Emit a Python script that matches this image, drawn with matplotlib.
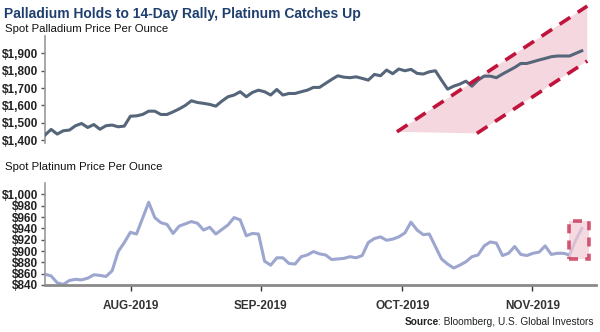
import numpy as np
import matplotlib.pyplot as plt
from matplotlib.patches import Polygon, Rectangle

# spot prices, one value per trading day (mid-Jul to mid-Nov 2019)
palladium = [1429, 1462, 1435, 1454, 1458, 1483, 1496, 1473, 1490, 1463,
             1483, 1487, 1477, 1481, 1538, 1540, 1548, 1567, 1567, 1548,
             1548, 1563, 1580, 1600, 1627, 1617, 1612, 1606, 1596, 1625,
             1650, 1660, 1679, 1650, 1675, 1688, 1679, 1660, 1692, 1660,
             1669, 1669, 1679, 1688, 1704, 1704, 1727, 1750, 1771, 1763,
             1760, 1765, 1756, 1746, 1779, 1771, 1804, 1783, 1810, 1800,
             1808, 1785, 1781, 1794, 1800, 1746, 1694, 1711, 1723, 1740,
             1711, 1746, 1769, 1769, 1760, 1781, 1800, 1819, 1842, 1842,
             1852, 1862, 1871, 1881, 1885, 1885, 1885, 1900, 1915]

platinum = [859, 856, 844, 841, 848, 850, 849, 852, 858, 857,
            855, 865, 899, 915, 933, 930, 958, 986, 959, 950,
            947, 931, 944, 948, 952, 949, 937, 942, 930, 938,
            946, 959, 955, 927, 931, 930, 882, 875, 888, 888,
            878, 877, 890, 893, 899, 895, 893, 885, 886, 887,
            890, 888, 892, 915, 922, 925, 919, 921, 925, 932,
            951, 937, 929, 930, 908, 886, 877, 870, 875, 881,
            890, 893, 909, 916, 914, 892, 896, 908, 894, 892,
            896, 898, 909, 894, 896, 896, 893, 919, 940]

month_labels = ['AUG-2019', 'SEP-2019', 'OCT-2019', 'NOV-2019']
month_pos = [14.1, 35.4, 58.6, 79.9]

pd_ticks = [1400, 1500, 1600, 1700, 1800, 1900]
pt_ticks = list(range(840, 1001, 20))

# highlight shapes (in data units)
pd_upper = [(57.7, 1448), (88.9, 2173)]
pd_lower = [(70.8, 1439), (88.9, 1856)]
pt_box = (85.9, 886, 3.3, 67)

navy = '#1f3f6e'
pd_col = '#56667a'
pt_col = '#9ca6cf'
red = '#c0143c'
pink = '#f2ccd5'

plt.rcParams['font.family'] = ['Liberation Sans Narrow', 'Liberation Sans', 'DejaVu Sans']

fig = plt.figure(figsize=(6, 3.32), dpi=100)
ax1 = fig.add_axes([0.075, 0.569, 0.918, 0.3224])
ax2 = fig.add_axes([0.075, 0.1416, 0.918, 0.307])

x = np.arange(len(palladium))

# palladium panel
poly = Polygon([pd_upper[0], pd_upper[1], pd_lower[1], pd_lower[0]],
               closed=True, facecolor=pink, edgecolor='none', alpha=0.75, clip_on=False, zorder=1)
ax1.add_patch(poly)
ax1.plot(x, palladium, color=pd_col, lw=2.2, zorder=3)
for seg in (pd_upper, pd_lower):
    ax1.plot([seg[0][0], seg[1][0]], [seg[0][1], seg[1][1]], color=red, lw=2.6,
             ls=(0, (3.5, 2.5)), clip_on=False, zorder=4)
ax1.set_xlim(0, 90.3)
ax1.set_ylim(1383, 2000)
ax1.set_yticks(pd_ticks)
ax1.set_yticklabels(['${:,}'.format(v) for v in pd_ticks])
ax1.set_xticks([])
for s in ['top', 'right', 'bottom']:
    ax1.spines[s].set_visible(False)

# platinum panel
ax2.plot(x, platinum, color=pt_col, lw=2.2, zorder=2)
ax2.add_patch(Rectangle((pt_box[0], pt_box[1]), pt_box[2], pt_box[3], facecolor=pink,
                        alpha=0.7, edgecolor=red, lw=2.6, ls=(0, (2.5, 2)), zorder=4, clip_on=False))
ax2.set_xlim(0, 90.3)
ax2.set_ylim(840, 1020)
ax2.set_yticks(pt_ticks)
ax2.set_yticklabels(['${:,}'.format(v) for v in pt_ticks])
ax2.set_xticks(month_pos)
ax2.set_xticklabels(month_labels)
for s in ['top', 'right']:
    ax2.spines[s].set_visible(False)
ax2.spines['bottom'].set_color('#8a8a8a')
ax2.spines['bottom'].set_linewidth(2)

for ax in (ax1, ax2):
    ax.spines['left'].set_color('#9a9a9a')
    ax.spines['left'].set_linewidth(1.2)
    ax.tick_params(axis='y', length=3, width=1, color='#555555', pad=2,
                   labelsize=8.5, labelcolor='#222222')
    for t in ax.get_yticklabels():
        t.set_fontweight('bold')
ax2.tick_params(axis='x', length=4, width=1, color='#333333', pad=7,
                labelsize=8.5, labelcolor='#333333')
for t in ax2.get_xticklabels():
    t.set_fontweight('bold')

fig.text(0.007, 0.957, 'Palladium Holds to 14-Day Rally, Platinum Catches Up',
         fontsize=10, fontweight='bold', color=navy, va='center')
fig.text(0.009, 0.913, 'Spot Palladium Price Per Ounce', fontsize=8.2, color='#111111', va='center')
fig.text(0.009, 0.497, 'Spot Platinum Price Per Ounce', fontsize=8.2, color='#111111', va='center')

# source line: regular part right-aligned, bold "Source" placed just left of it
src = fig.text(0.99, 0.03, ': Bloomberg, U.S. Global Investors', fontsize=7.3, color='#222222',
               ha='right', va='center')
fig.canvas.draw()
bb = src.get_window_extent(fig.canvas.get_renderer())
fig.text(bb.x0 / fig.bbox.width, 0.03, 'Source', fontsize=7.3, fontweight='bold',
         color='#222222', ha='right', va='center')

fig.savefig('out.png', dpi=100)
